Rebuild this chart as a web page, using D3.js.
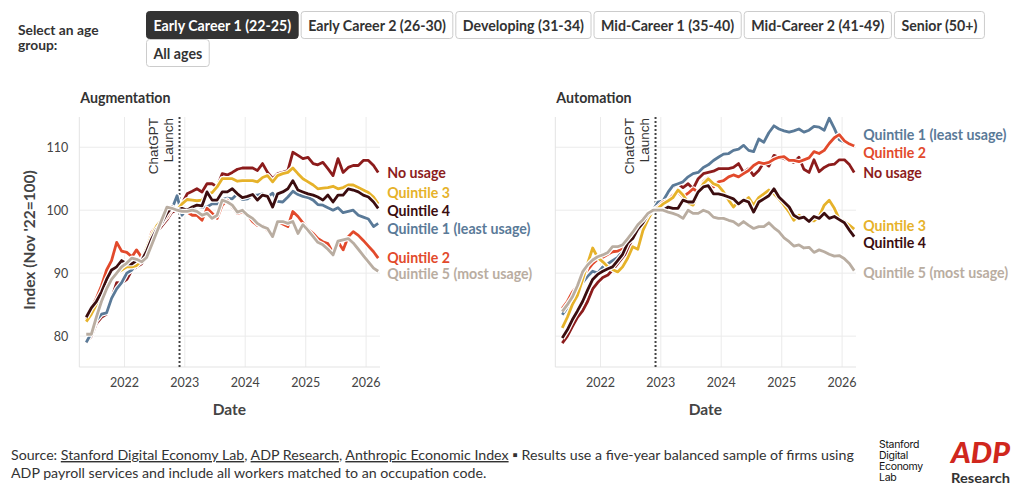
<!DOCTYPE html>
<html>
<head>
<meta charset="utf-8">
<script src="https://cdn.jsdelivr.net/npm/d3@7"></script>
<style>
  body { margin: 0; background: #fff; }
  svg { display: block; font-family: Lato, "DejaVu Sans", sans-serif; }
</style>
</head>
<body>
<svg id="chart" width="1020" height="498"></svg>
<script>
// ---- data ----
const ageGroups = [
  "Early Career 1 (22-25)", "Early Career 2 (26-30)", "Developing (31-34)",
  "Mid-Career 1 (35-40)", "Mid-Career 2 (41-49)", "Senior (50+)", "All ages"
];
const selectedGroup = "Early Career 1 (22-25)";

// monthly observations, May 2021 - Mar 2026 (plotted mid-month)
const months = d3.timeMonth
  .range(new Date(2021, 4, 1), new Date(2026, 3, 1))
  .map(m => d3.timeDay.offset(m, 14));

const chatgptLaunch = new Date(2022, 10, 30);
const yTicks = [80, 90, 100, 110];
const xTickYears = [2022, 2023, 2024, 2025, 2026];

const seriesNames = ["No usage", "Quintile 1 (least usage)", "Quintile 2",
  "Quintile 3", "Quintile 4", "Quintile 5 (most usage)"];
const seriesColors = ["#8c1c1c", "#5a7a98", "#e24a2c", "#e6b22a", "#3b0d0f", "#b9ada1"];

// Augmentation
const augNoUsage = [79, 80, 82, 83, 83.5, 86, 88.5, 88.4, 89, 90.5, 91, 91.5, 93, 95, 96.6, 97.5, 98.5, 99.7, 100,
  101, 102.6, 103, 103.4, 102.9, 104.2, 104.2, 103.7, 105.8, 105.6, 106, 106.5, 106.7, 106.7, 106.7, 106.3, 107.4, 106, 105, 105.8,
  106, 106.3, 109.2, 108.7, 108.2, 108.4, 107.4, 107.2, 107.6, 106.6, 105.5, 108.2, 106, 106.8, 107.1, 107.1, 107.9, 107.9, 107.1, 106];
const augQ1 = [79, 80.5, 82.5, 83.5, 83.7, 86, 87.5, 88.5, 90, 90.5, 91.5, 92, 93, 95, 97.5, 98.5, 99, 100.2, 102.3,
  99.2, 100.3, 100.3, 100.6, 100.5, 100.5, 101, 101, 101.7, 101.9, 101.8, 102.6, 101.7, 101.8, 102.4, 102.4, 102.6, 102.1, 102.7, 101.4,
  101.3, 102.1, 103, 102.5, 102.2, 102, 101.6, 100.9, 100.8, 100.4, 100, 100.4, 99.6, 99.8, 100, 99.2, 98.9, 98.6, 97.4, 97.9];
const augQ2 = [82.5, 84.5, 86, 88, 90.5, 92, 94.9, 93.5, 93.3, 92.6, 93.7, 92.5, 94, 96.5, 97.5, 98, 99, 100.3, 100,
  100, 99.7, 99.2, 99.2, 98.4, 100.3, 99.5, 98.7, 100.8, 101.6, 100.5, 99.5, 99.7, 99.2, 98.2, 97.6, 97.6, 96.8, 96, 98.2,
  97.8, 97.4, 99.8, 99, 98, 97, 96.3, 95.5, 95, 94.7, 93.2, 95, 93.7, 95.8, 96.6, 96, 95.2, 94.3, 93.4, 92.4];
const augQ3 = [82.3, 83.5, 85, 86.5, 88, 89, 90, 90.5, 91, 91, 91.2, 92, 94, 96, 97.5, 98.5, 99.5, 100.5, 100,
  101, 101.7, 101.6, 101.5, 101.6, 102.6, 102.8, 103.7, 105, 105, 105, 104.6, 104.7, 104.7, 104.7, 104.5, 105.2, 105.5, 104.5, 105.5,
  105.8, 106, 106.7, 105.8, 105, 104.5, 104, 103.4, 103.5, 103.6, 103.8, 103.4, 103.6, 104, 104, 103.6, 103.2, 102.8, 102.1, 101];
const augQ4 = [83, 84.5, 85.5, 87, 89, 90.5, 91, 92, 91.5, 91.5, 92, 92, 93.5, 95.5, 97, 98, 99.5, 100.5, 100,
  100.3, 100, 100.5, 100.8, 100.7, 102.9, 101.6, 101.6, 102.9, 102.9, 103.4, 102.6, 102, 102.2, 102.5, 101.6, 102.4, 102.2, 100.5, 102.6,
  102.9, 103.4, 104.7, 103.2, 102.9, 102.6, 102.4, 102.1, 101.6, 102.4, 101.3, 102.4, 102.4, 103.4, 103.2, 102.9, 102.4, 102.1, 101.3, 100.3];
const augQ5 = [80.3, 80.3, 83, 85.5, 87.5, 89, 90, 91, 91.6, 92.4, 92.2, 91.8, 92.5, 94.5, 96.5, 98.5, 100.5, 100.3, 100,
  99.8, 99.8, 100, 99.8, 99.2, 99.5, 98.7, 99.2, 101.6, 101.3, 100.8, 99.7, 100, 99.2, 98.7, 97.9, 97.4, 97.1, 95.8, 98.2,
  98.2, 97.9, 98.2, 96.3, 97.7, 96.8, 95.8, 94.9, 94.5, 93.8, 92.9, 95.1, 95.3, 95.5, 94.8, 93.8, 92.8, 91.8, 90.8, 90.3];
// label anchor values (index units) for the end labels
const augLabelValues = [105.9, 97.0, 92.4, 102.7, 99.9, 89.9];

// Automation
const autoNoUsage = [78.9, 80, 81.5, 83, 84, 85.5, 87.5, 88.5, 89.3, 89.7, 90.5, 91.5, 92.5, 93.5, 95.8, 96.8, 97.5, 99, 100,
  100.5, 101, 102.9, 103.7, 104.2, 103.6, 104.2, 103.4, 105, 105.8, 106, 106.2, 106.6, 106.6, 106.6, 106.8, 107.4, 106, 106.6, 105.5,
  106.3, 107.6, 107, 108.7, 108.4, 108.2, 107.9, 107.6, 108.4, 106.5, 106, 108, 106.1, 106.8, 107.2, 107.3, 108, 108, 107.2, 106];
const autoQ1 = [83.4, 84.5, 86, 87, 88.5, 89.5, 90.3, 90, 91, 91.5, 92, 92.5, 93.5, 95, 96, 97.5, 98.5, 99.5, 100,
  101.3, 101.5, 102.9, 103.9, 104.2, 104.5, 105.3, 105.8, 106, 106.8, 107.2, 107.9, 108.4, 108.9, 109, 109.5, 109.7, 110.3, 109.5, 109.3,
  111.3, 110.8, 112.3, 113.4, 112.9, 112.6, 112.4, 112.6, 112.9, 112.4, 112.7, 113.3, 113.2, 112.7, 114.6, 113, 111.2, 110.8, 110.6, 110.3];
const autoQ2 = [84.4, 85.5, 87, 88, 89.5, 90.5, 91.5, 92.2, 92.5, 93, 93.4, 93.5, 94, 95.5, 96.5, 97.5, 98.7, 99.5, 100,
  100.5, 101.3, 101.6, 102.4, 102.9, 102.1, 102.7, 103.4, 102.9, 104.5, 105.2, 103.7, 104.5, 104.7, 105.3, 105.6, 105.3, 105.8, 106.3, 107.1,
  107.6, 107.4, 107.6, 108.1, 108.4, 108.5, 107.9, 107.9, 107.7, 108, 108.3, 109.3, 109, 109.5, 110.6, 111.5, 112, 111, 110.5, 110.2];
const autoQ3 = [81.3, 83, 85, 86.5, 89, 91.5, 94, 92.5, 91.8, 91, 90.6, 90.2, 91, 92.4, 94.2, 93.8, 96.8, 98.5, 100,
  100.3, 101, 101.5, 102, 103.2, 102.4, 101.2, 100.8, 102.9, 104.2, 105, 104.2, 103.9, 102.9, 101.6, 100.5, 101.4, 101.3, 102, 100.8,
  102, 102.6, 103.2, 102.6, 101.8, 100.8, 99.7, 98.4, 99.2, 98.7, 98.4, 98.3, 99, 100.8, 101.6, 100.3, 98.6, 98.2, 97.6, 97];
const autoQ4 = [79.7, 81, 82.6, 84, 85.5, 87.3, 89, 89.8, 90.3, 90.7, 91, 92, 93, 94.8, 95.5, 97, 98, 99.3, 100,
  100, 100, 100.5, 100.3, 100.3, 101.6, 101.3, 101.3, 102.9, 103.7, 103.9, 102.6, 102.6, 102.4, 102.1, 101.8, 101, 101.6, 101.3, 99.7,
  101.3, 101.8, 102.3, 103.4, 102.1, 101.3, 100.5, 99.2, 98.7, 98.9, 98.2, 99, 98.7, 99.5, 98.7, 99, 98.5, 98, 96.8, 95.8];
const autoQ5 = [83.9, 85, 86.2, 88, 90.2, 91.3, 92.1, 92.6, 92.9, 93.3, 94.2, 94.2, 94.5, 95.5, 96.5, 97.7, 98.5, 99.5, 100,
  100, 100, 99.7, 99.5, 99.2, 98.7, 100, 99.5, 99.5, 100, 99.7, 98.9, 98.7, 98.7, 98.4, 98.2, 97.6, 98.2, 97.6, 97.1,
  97.4, 97.4, 98, 97.2, 96.6, 95.6, 95, 94.3, 94.5, 94, 94.1, 93.3, 93.7, 93.4, 93, 92.7, 92.8, 92.3, 91.5, 90.4];
const autoLabelValues = [105.9, 112.0, 109.1, 97.5, 94.8, 90.0];

// ---- drawing ----
const svg = d3.select("#chart");
const INK = "#333";
const FS = "14.2px";

// age group selector
svg.append("text").attr("x", 18).attr("y", 35)
  .style("font-size", "13.8px").style("font-weight", 700).attr("fill", INK)
  .text("Select an age");
svg.append("text").attr("x", 18).attr("y", 50)
  .style("font-size", "13.8px").style("font-weight", 700).attr("fill", INK)
  .text("group:");

const btnLeft = 146, btnRight = 990, btnH = 27, btnGap = 3, btnPad = 7;
let bx = btnLeft, by = 11;
ageGroups.forEach(name => {
  const g = svg.append("g");
  const rect = g.append("rect");
  const t = g.append("text")
    .style("font-size", FS).style("font-weight", 700)
    .text(name);
  const w = t.node().getComputedTextLength() + btnPad * 2;
  if (bx + w > btnRight) { bx = btnLeft; by += btnH + 1; }
  const on = name === selectedGroup;
  rect.attr("x", bx + 0.5).attr("y", by + 0.5)
    .attr("width", w).attr("height", btnH)
    .attr("rx", 3)
    .attr("fill", on ? "#333" : "#fff")
    .attr("stroke", on ? "#333" : "#ccc");
  t.attr("x", bx + 0.5 + btnPad).attr("y", by + 19.8)
    .attr("fill", on ? "#fff" : INK);
  bx += w + btnGap;
});

// shared y scale
const y = d3.scaleLinear().domain([75.1, 114.8]).range([367, 117]);

function drawPanel(x0, title, data, labelValues, showY) {
  const x = d3.scaleTime()
    .domain([new Date(2021, 3, 3), new Date(2026, 2, 26)])
    .range([x0, x0 + 300.7]);
  const g = svg.append("g");

  // gridlines
  g.selectAll(".hgrid").data(yTicks).enter().append("line")
    .attr("x1", x0).attr("x2", x0 + 300.7)
    .attr("y1", d => y(d)).attr("y2", d => y(d))
    .attr("stroke", "#ebebeb").attr("stroke-width", 1);
  const yearDates = xTickYears.map(yr => new Date(yr, 0, 1));
  g.selectAll(".vgrid").data(yearDates).enter().append("line")
    .attr("x1", d => x(d)).attr("x2", d => x(d))
    .attr("y1", y.range()[1]).attr("y2", y.range()[0])
    .attr("stroke", "#ebebeb").attr("stroke-width", 1);
  // panel axis lines
  g.append("line").attr("x1", x0).attr("x2", x0)
    .attr("y1", y.range()[1]).attr("y2", y.range()[0])
    .attr("stroke", "#e3e3e3");
  g.append("line").attr("x1", x0).attr("x2", x0 + 300.7)
    .attr("y1", y.range()[0]).attr("y2", y.range()[0])
    .attr("stroke", "#e3e3e3");

  // x tick labels
  g.selectAll(".xt").data(yearDates).enter().append("text")
    .attr("x", d => x(d)).attr("y", 387)
    .attr("text-anchor", "middle")
    .style("font-size", "12.5px").attr("fill", "#444")
    .text(d => d.getFullYear());

  if (showY) {
    g.selectAll(".yt").data(yTicks).enter().append("text")
      .attr("x", x0 - 11).attr("y", d => y(d) + 4.5)
      .attr("text-anchor", "end")
      .style("font-size", "12.5px").attr("fill", "#444")
      .text(d => d);
  }

  // title + axis title
  g.append("text").attr("x", x0 + 1).attr("y", 103)
    .style("font-size", FS).style("font-weight", 700).attr("fill", INK)
    .text(title);
  g.append("text").attr("x", x0 + 150).attr("y", 415)
    .attr("text-anchor", "middle")
    .style("font-size", "15.5px").style("font-weight", 700).attr("fill", "#444")
    .text("Date");

  // ChatGPT launch marker
  const lx = x(chatgptLaunch);
  g.append("line").attr("x1", lx).attr("x2", lx)
    .attr("y1", y.range()[1]).attr("y2", y.range()[0])
    .attr("stroke", "#444").attr("stroke-width", 2)
    .attr("stroke-dasharray", "2,2");
  const lab = g.append("text")
    .attr("transform", `translate(${lx - 22},${y.range()[1] + 1}) rotate(-90)`)
    .attr("text-anchor", "end")
    .style("font-family", "'Liberation Sans', Arial, sans-serif")
    .style("font-size", "13.5px").attr("fill", INK);
  lab.append("tspan").attr("x", 0).attr("y", 0).text("ChatGPT");
  lab.append("tspan").attr("x", 0).attr("y", 15).text("Launch");

  // series lines with white halo
  const line = d3.line().x((d, i) => x(months[i])).y(d => y(d));
  data.forEach((vals, k) => {
    g.append("path").attr("d", line(vals))
      .attr("fill", "none").attr("stroke", "#fff")
      .attr("stroke-width", 5.2).attr("stroke-linejoin", "round");
    g.append("path").attr("d", line(vals))
      .attr("fill", "none").attr("stroke", seriesColors[k])
      .attr("stroke-width", 2.8).attr("stroke-linejoin", "round");
  });

  // end labels
  const lastX = x(months[months.length - 1]);
  seriesNames.forEach((name, k) => {
    g.append("text").attr("x", lastX + 9).attr("y", y(labelValues[k]) + 5)
      .style("font-size", FS).style("font-weight", 700)
      .attr("fill", seriesColors[k])
      .text(name);
  });
}

drawPanel(79.3,
  "Augmentation",
  [augNoUsage, augQ1, augQ2, augQ3, augQ4, augQ5],
  augLabelValues, true);
drawPanel(555.3,
  "Automation",
  [autoNoUsage, autoQ1, autoQ2, autoQ3, autoQ4, autoQ5],
  autoLabelValues, false);

// y axis title
svg.append("text")
  .attr("transform", "translate(35,240) rotate(-90)")
  .attr("text-anchor", "middle")
  .style("font-size", "15.5px").style("font-weight", 700).attr("fill", "#444")
  .text("Index (Nov '22=100)");

// footer
const foot = svg.append("text").attr("x", 11).attr("y", 460)
  .style("font-size", FS).attr("fill", INK);
foot.append("tspan").text("Source: ");
foot.append("tspan").style("text-decoration", "underline").text("Stanford Digital Economy Lab");
foot.append("tspan").text(", ");
foot.append("tspan").style("text-decoration", "underline").text("ADP Research");
foot.append("tspan").text(", ");
foot.append("tspan").style("text-decoration", "underline").text("Anthropic Economic Index");
foot.append("tspan").text(" \u25AA Results use a five-year balanced sample of firms using");
svg.append("text").attr("x", 11).attr("y", 478)
  .style("font-size", FS).attr("fill", INK)
  .text("ADP payroll services and include all workers matched to an occupation code.");

// logos
["Stanford", "Digital", "Economy", "Lab"].forEach((w, i) => {
  svg.append("text").attr("x", 879).attr("y", 448 + i * 11)
    .style("font-family", "Inter, sans-serif").style("font-size", "10.5px")
    .style("letter-spacing", "-0.3px").attr("fill", "#111")
    .text(w);
});
svg.append("text").attr("x", 951).attr("y", 463)
  .attr("textLength", 59).attr("lengthAdjust", "spacingAndGlyphs")
  .style("font-size", "29px").style("font-weight", 900).style("font-style", "italic")
  .attr("fill", "#d0271d").text("ADP");
svg.append("text").attr("x", 951).attr("y", 483)
  .attr("textLength", 59).attr("lengthAdjust", "spacingAndGlyphs")
  .style("font-size", "14px").style("font-weight", 700).attr("fill", "#333")
  .text("Research");
</script>
</body>
</html>
